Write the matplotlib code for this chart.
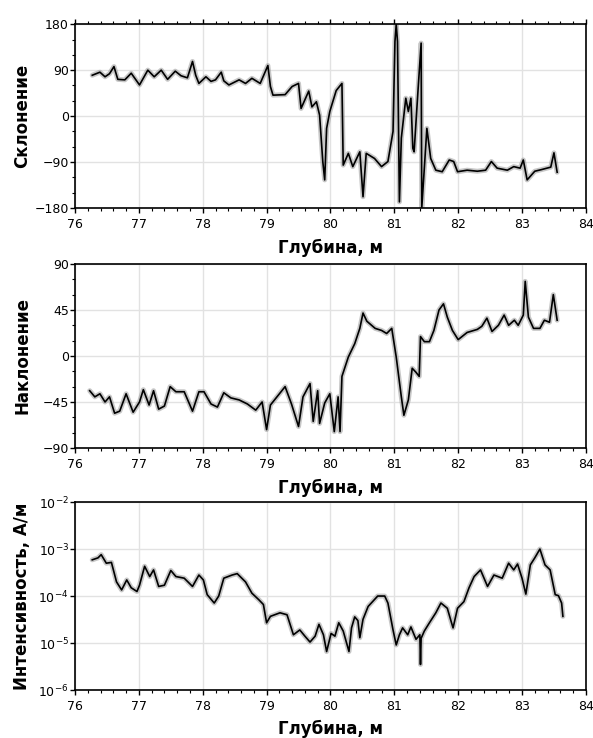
import numpy as np
import matplotlib
matplotlib.use('Agg')
import matplotlib.pyplot as plt
from matplotlib.ticker import MultipleLocator, LogLocator, LogFormatterSciNotation

plt.rcParams['font.family'] = ['DejaVu Sans']

# Declination vs depth
depth_decl = [76.27, 76.39, 76.47, 76.54, 76.61, 76.67, 76.78, 76.88, 77.01, 77.14,
              77.24, 77.35, 77.45, 77.57, 77.66, 77.76, 77.84, 77.89, 77.94, 78.05,
              78.13, 78.20, 78.29, 78.33, 78.41, 78.57, 78.67, 78.77, 78.90, 79.02,
              79.06, 79.10, 79.29, 79.40, 79.50, 79.54, 79.66, 79.71, 79.78, 79.83,
              79.88, 79.91, 79.94, 79.99, 80.09, 80.18, 80.20, 80.28, 80.35, 80.46,
              80.51, 80.56, 80.69, 80.80, 80.90, 80.98, 81.01, 81.03, 81.05, 81.08,
              81.11, 81.18, 81.22, 81.26, 81.29, 81.31, 81.37, 81.42, 81.43, 81.47,
              81.51, 81.57, 81.65, 81.75, 81.86, 81.93, 81.99, 82.14, 82.30, 82.43,
              82.52, 82.61, 82.77, 82.87, 82.97, 83.02, 83.08, 83.20, 83.30, 83.45,
              83.50, 83.55]
decl = [80, 86, 77, 83, 97, 72, 71, 84, 61, 90,
        77, 90, 72, 88, 79, 75, 107, 80, 64, 77,
        68, 71, 86, 69, 61, 71, 64, 74, 64, 99,
        58, 41, 42, 58, 64, 15, 49, 18, 28, 2,
        -89, -125, -24, 9, 50, 64, -96, -73, -99, -70,
        -158, -73, -83, -99, -89, -30, 146, 180, 146, -168,
        -43, 35, 9, 35, -63, -70, 48, 143, -180, -102,
        -24, -83, -106, -109, -86, -89, -109, -106, -108, -106,
        -89, -102, -106, -99, -102, -86, -125, -108, -105, -100,
        -72, -110]

# Inclination vs depth
depth_incl = [76.23, 76.31, 76.39, 76.47, 76.54, 76.62, 76.70, 76.80, 76.91, 77.01,
              77.07, 77.16, 77.23, 77.31, 77.40, 77.49, 77.58, 77.71, 77.84, 77.94,
              78.02, 78.13, 78.23, 78.33, 78.44, 78.57, 78.70, 78.83, 78.93, 79.00,
              79.06, 79.29, 79.39, 79.50, 79.57, 79.68, 79.73, 79.80, 79.83, 79.91,
              79.99, 80.06, 80.12, 80.15, 80.18, 80.28, 80.38, 80.46, 80.51, 80.57,
              80.70, 80.80, 80.88, 80.96, 81.03, 81.11, 81.15, 81.22, 81.28, 81.34,
              81.39, 81.41, 81.47, 81.55, 81.62, 81.70, 81.77, 81.83, 81.91, 82.00,
              82.14, 82.30, 82.37, 82.45, 82.53, 82.63, 82.72, 82.79, 82.88, 82.94,
              83.02, 83.05, 83.10, 83.18, 83.28, 83.35, 83.43, 83.49, 83.55]
incl = [-34, -40, -37, -45, -40, -56, -54, -37, -55, -45,
        -33, -48, -34, -52, -49, -30, -35, -35, -54, -35,
        -35, -47, -50, -36, -41, -43, -47, -53, -45, -72,
        -48, -30, -47, -69, -40, -27, -64, -34, -66, -46,
        -37, -74, -40, -74, -20, -1, 12, 27, 42, 34,
        27, 25, 22, 27, -1, -40, -58, -43, -12, -16,
        -20, 19, 14, 14, 25, 45, 51, 38, 25, 16,
        23, 26, 29, 37, 24, 30, 40, 30, 35, 30,
        40, 73, 38, 27, 27, 35, 33, 60, 35]

# Intensity (A/m) vs depth
depth_int = [76.27, 76.36, 76.41, 76.49, 76.57, 76.65, 76.73, 76.81, 76.88, 76.97,
             77.01, 77.09, 77.17, 77.23, 77.31, 77.40, 77.50, 77.58, 77.71, 77.84,
             77.94, 78.01, 78.07, 78.18, 78.25, 78.33, 78.46, 78.54, 78.67, 78.77,
             78.88, 78.95, 79.00, 79.06, 79.21, 79.32, 79.42, 79.52, 79.60, 79.68,
             79.76, 79.82, 79.89, 79.94, 80.01, 80.07, 80.13, 80.20, 80.29, 80.33,
             80.38, 80.43, 80.46, 80.51, 80.59, 80.74, 80.85, 80.90, 80.98, 81.03,
             81.08, 81.13, 81.21, 81.26, 81.34, 81.40, 81.41, 81.42, 81.47, 81.55,
             81.65, 81.73, 81.83, 81.88, 81.92, 81.99, 82.09, 82.17, 82.25, 82.35,
             82.46, 82.56, 82.69, 82.79, 82.87, 82.93, 83.00, 83.06, 83.13, 83.20,
             83.28, 83.36, 83.44, 83.52, 83.57, 83.62, 83.64]
intensity = [5.9e-4, 6.5e-4, 7.6e-4, 5.0e-4, 5.2e-4, 2.0e-4, 1.35e-4, 2.2e-4, 1.5e-4, 1.25e-4,
             1.7e-4, 4.3e-4, 2.6e-4, 3.6e-4, 1.6e-4, 1.7e-4, 3.5e-4, 2.6e-4, 2.4e-4, 1.6e-4,
             2.8e-4, 2.2e-4, 1.07e-4, 7.1e-5, 1.0e-4, 2.4e-4, 2.8e-4, 3.0e-4, 2.0e-4, 1.15e-4,
             8.3e-5, 6.6e-5, 2.7e-5, 3.7e-5, 4.4e-5, 4.0e-5, 1.5e-5, 1.9e-5, 1.4e-5, 1.05e-5,
             1.4e-5, 2.5e-5, 1.5e-5, 6.6e-6, 1.6e-5, 1.4e-5, 2.7e-5, 1.8e-5, 6.6e-6, 2.1e-5,
             3.6e-5, 3.0e-5, 1.3e-5, 3.2e-5, 6.0e-5, 1.0e-4, 1.0e-4, 7.1e-5, 1.9e-5, 9.1e-6,
             1.5e-5, 2.1e-5, 1.5e-5, 2.2e-5, 1.2e-5, 1.5e-5, 3.5e-6, 1.26e-5, 1.8e-5, 2.7e-5,
             4.4e-5, 7.1e-5, 5.5e-5, 3.2e-5, 2.1e-5, 5.5e-5, 7.6e-5, 1.5e-4, 2.6e-4, 3.6e-4,
             1.6e-4, 2.8e-4, 2.4e-4, 5.0e-4, 3.6e-4, 4.8e-4, 2.4e-4, 1.1e-4, 4.6e-4, 6.5e-4,
             1.0e-3, 4.6e-4, 3.6e-4, 1.07e-4, 1.02e-4, 7.1e-5, 3.7e-5]

x_label = 'Глубина, м'
y_labels = ['Склонение', 'Наклонение', 'Интенсивность, А/м']

fig = plt.figure(figsize=(5.93, 7.38), dpi=100)

# axes boxes in figure fraction: [left, bottom, width, height]
ax1 = fig.add_axes([0.1265, 0.7182, 0.8615, 0.249])
ax2 = fig.add_axes([0.1265, 0.393, 0.8615, 0.2493])
ax3 = fig.add_axes([0.1265, 0.065, 0.8615, 0.2547])


def draw_curve(ax, x, y):
    # gray fuzzy halo under a thin black trace
    ax.plot(x, y, color='#9a9a9a', lw=3.6, alpha=0.55, solid_capstyle='round', zorder=2)
    ax.plot(x, y, color='black', lw=1.2, zorder=3)


draw_curve(ax1, depth_decl, decl)
draw_curve(ax2, depth_incl, incl)
draw_curve(ax3, depth_int, intensity)

ax1.set_ylim(-180, 180)
ax1.yaxis.set_major_locator(MultipleLocator(90))
ax1.yaxis.set_minor_locator(MultipleLocator(30))

ax2.set_ylim(-90, 90)
ax2.yaxis.set_major_locator(MultipleLocator(45))
ax2.yaxis.set_minor_locator(MultipleLocator(15))

ax3.set_yscale('log')
ax3.set_ylim(1e-6, 1e-2)
ax3.yaxis.set_major_locator(LogLocator(base=10, numticks=10))
ax3.yaxis.set_major_formatter(LogFormatterSciNotation())
ax3.yaxis.set_minor_locator(plt.NullLocator())

for i, ax in enumerate([ax1, ax2, ax3]):
    ax.set_xlim(76, 84)
    ax.xaxis.set_major_locator(MultipleLocator(1))
    ax.xaxis.set_minor_locator(MultipleLocator(0.2))
    ax.grid(True, which='major', color='#e2e2e2', lw=1.0, zorder=0)
    for s in ax.spines.values():
        s.set_linewidth(1.2)
    ax.tick_params(which='major', direction='out', length=3.5, width=1.0, labelsize=9)
    ax.tick_params(which='minor', direction='out', length=2.2, width=0.8)
    ax.tick_params(axis='x', pad=4)
    ax.tick_params(axis='y', pad=1)
    ax.set_xlabel(x_label, fontsize=12, fontweight='bold')
    ax.set_ylabel(y_labels[i], fontsize=12, fontweight='bold')
    ax.yaxis.set_label_coords(-0.086, 0.5)

ax1.xaxis.set_label_coords(0.5, -0.17)
ax2.xaxis.set_label_coords(0.5, -0.17)
ax3.xaxis.set_label_coords(0.5, -0.16)

# the upper panel also carries ticks along its top edge
ax1.tick_params(axis='x', which='both', top=True)

fig.savefig('out.png', dpi=100)
